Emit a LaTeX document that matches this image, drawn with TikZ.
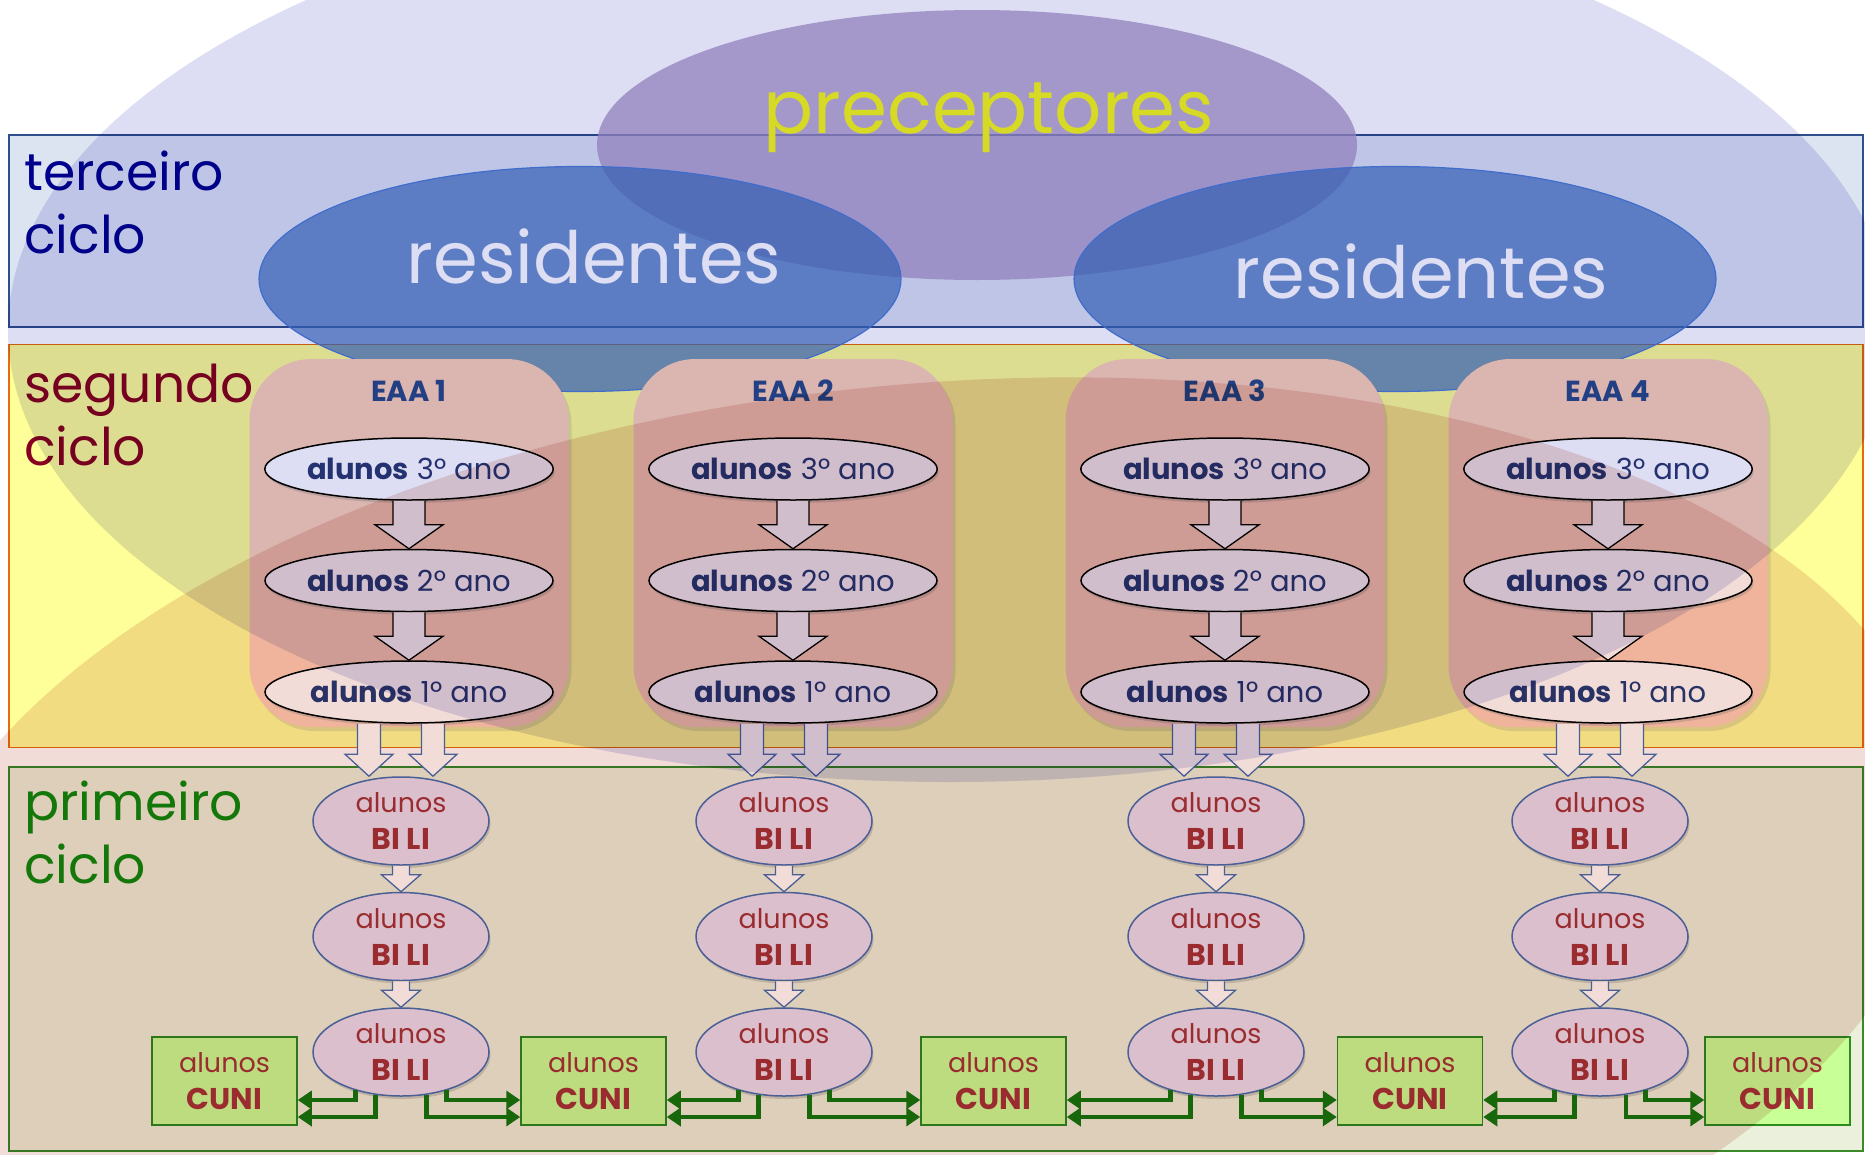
\documentclass[tikz,border=0pt]{standalone}
\usepackage{fontspec}
\setmainfont{Poppins}
\usetikzlibrary{positioning,shapes.geometric,calc,arrows.meta,shadows}

\definecolor{lavbg}{HTML}{DDDDF3}
\definecolor{pinkbg}{HTML}{F2DCD8}
\definecolor{terfill}{HTML}{DCE4F2}
\definecolor{terline}{HTML}{2F4E8C}
\definecolor{terlabel}{HTML}{00008F}
\definecolor{segfill}{HTML}{FFFF99}
\definecolor{segline}{HTML}{E46C0A}
\definecolor{seglabel}{HTML}{880022}
\definecolor{prifill}{HTML}{EAF0DC}
\definecolor{priline}{HTML}{3A8A2A}
\definecolor{prilabel}{HTML}{158A0C}
\definecolor{precfill}{HTML}{A896C8}
\definecolor{precyellow}{HTML}{F8FC26}
\definecolor{resfill}{HTML}{3C6EBE}
\definecolor{resline}{HTML}{4A7ED6}
\definecolor{eaafill}{HTML}{FDD1B9}
\definecolor{eaablue}{HTML}{284A8A}
\definecolor{anoblue}{HTML}{2B3A78}
\definecolor{bilifill}{HTML}{E8DEF2}
\definecolor{biliblue}{HTML}{4F6FB0}
\definecolor{bilired}{HTML}{A33439}
\definecolor{cunifill}{HTML}{C8FF96}
\definecolor{cuniline}{HTML}{2E8B1E}
\definecolor{linkgreen}{HTML}{1A780E}

\newcommand{\boldline}[1]{{\fontsize{30}{37}\selectfont\bfseries #1}}

\begin{document}
\begin{tikzpicture}[x=1pt, y=-1pt,
cyclebox/.style={rectangle, minimum width=1854pt, line width=1.5pt, inner sep=0pt},
cyclelabel/.style={anchor=base west, inner sep=0pt, align=left, font=\fontsize{52}{63}\selectfont},
bigtext/.style={anchor=base, inner sep=0pt, font=\fontsize{74}{80}\selectfont},
restext/.style={anchor=base, inner sep=0pt, text=white, font=\fontsize{72}{80}\selectfont},
precnode/.style={ellipse, fill=precfill, fill opacity=0.75, minimum width=760pt, minimum height=270pt},
resnode/.style={ellipse, draw=resline, line width=1.2pt, fill=resfill, fill opacity=0.7, minimum width=642pt, minimum height=225pt},
eaabox/.style={rectangle, rounded corners=62pt, fill=eaafill, minimum width=319pt, minimum height=368pt, drop shadow={opacity=0.2, shadow xshift=3pt, shadow yshift=-4pt}},
eaatitle/.style={anchor=base, inner sep=0pt, text=eaablue, font=\fontsize{29}{32}\selectfont\bfseries},
anonode/.style={ellipse, draw=black, line width=1.5pt, fill=white, minimum width=288pt, minimum height=62pt, inner sep=0pt, text=anoblue, font=\fontsize{29}{32}\selectfont, drop shadow={opacity=0.3, shadow xshift=1.5pt, shadow yshift=-3pt}},
bilinode/.style={ellipse, draw=biliblue, line width=1.5pt, fill=bilifill, minimum width=176pt, minimum height=88pt, inner sep=0pt, align=center, text=bilired, font=\fontsize{27}{37}\selectfont, drop shadow={opacity=0.3, shadow xshift=1.5pt, shadow yshift=-3pt}},
cuninode/.style={rectangle, draw=cuniline, line width=1.5pt, fill=cunifill, minimum width=145pt, minimum height=88pt, inner sep=0pt, align=center, text=bilired, font=\fontsize{27}{37}\selectfont},
blockarrow/.style n args={4}{to path={let \p1=(\tikztostart), \p2=(\tikztotarget) in
  (\x2+#4-#1,\y1) -- (\x2+#4-#1,\y2+#3) -- (\x2+#4-#2,\y2+#3) -- (\x2+#4,\y2) -- (\x2+#4+#2,\y2+#3) -- (\x2+#4+#1,\y2+#3) -- (\x2+#4+#1,\y1)}},
bigdown/.style={draw=black, line width=1.3pt, fill=white, blockarrow={16pt}{34pt}{24pt}{0pt}},
twindown/.style={draw=biliblue, line width=1.3pt, fill=white, blockarrow={11.5pt}{24pt}{22pt}{#1}},
smalldown/.style={draw=biliblue, line width=1.3pt, fill=white, blockarrow={8.5pt}{19.5pt}{17pt}{0pt}},
cunilink/.style={draw=linkgreen, line width=4.5pt, -{Triangle[length=14pt,width=18pt]}},
]
\useasboundingbox (0,0) rectangle (1865,1154);
\clip (0,0) rectangle (1865,1154);

%Cycles and big ellipses
\node[cyclebox, draw=terline, fill=terfill, minimum height=192pt] (ter) at (936,231) {};
\node[cyclelabel, text=terlabel] (terlab) at (24,253) {terceiro\\ciclo};
\node[precnode] (prec) at (977,145) {};
\node[bigtext, text=precyellow] (prectext) at (989,133) {preceptores};
\node[cyclebox, draw=segline, fill=segfill, minimum height=403pt] (seg) at (936,546) {};
\node[cyclelabel, text=seglabel] (seglab) at (24,465) {segundo\\ciclo};
\node[resnode] (res1) at (580,279) {};
\node[resnode] (res2) at (1395,279) {};
\node[restext] (res1text) at (594,283) {residentes};
\node[restext] (res2text) at (1421,298) {residentes};
\node[cyclebox, draw=priline, fill=prifill, minimum height=384pt] (pri) at (936,959) {};

%EAA boxes
\node[eaabox] (eaa1) at (409,543) {};
\node[eaabox] (eaa2) at (793,543) {};
\node[eaabox] (eaa3) at (1225,543) {};
\node[eaabox] (eaa4) at (1608,543) {};
\node[eaatitle] (t1) at ($(eaa1.north)+(0,43)$) {EAA 1};
\node[eaatitle] (t2) at ($(eaa2.north)+(0,43)$) {EAA 2};
\node[eaatitle] (t3) at ($(eaa3.north)+(0,43)$) {EAA 3};
\node[eaatitle] (t4) at ($(eaa4.north)+(0,43)$) {EAA 4};

%Year nodes
\node[anonode] (a13) at (409,469) {\textbf{alunos} 3º ano};
\node[anonode] (a12) [below=48pt of a13] {\textbf{alunos} 2º ano};
\node[anonode] (a11) [below=48pt of a12] {\textbf{alunos} 1º ano};
\node[anonode] (a23) at (793,469) {\textbf{alunos} 3º ano};
\node[anonode] (a22) [below=48pt of a23] {\textbf{alunos} 2º ano};
\node[anonode] (a21) [below=48pt of a22] {\textbf{alunos} 1º ano};
\node[anonode] (a33) at (1225,469) {\textbf{alunos} 3º ano};
\node[anonode] (a32) [below=48pt of a33] {\textbf{alunos} 2º ano};
\node[anonode] (a31) [below=48pt of a32] {\textbf{alunos} 1º ano};
\node[anonode] (a43) at (1608,469) {\textbf{alunos} 3º ano};
\node[anonode] (a42) [below=48pt of a43] {\textbf{alunos} 2º ano};
\node[anonode] (a41) [below=48pt of a42] {\textbf{alunos} 1º ano};

%BI LI nodes
\node[bilinode] (b11) at (401,821) {alunos\\\boldline{BI LI}};
\node[bilinode] (b12) [below=26pt of b11] {alunos\\\boldline{BI LI}};
\node[bilinode] (b13) [below=26pt of b12] {alunos\\\boldline{BI LI}};
\node[bilinode] (b21) at (784,821) {alunos\\\boldline{BI LI}};
\node[bilinode] (b22) [below=26pt of b21] {alunos\\\boldline{BI LI}};
\node[bilinode] (b23) [below=26pt of b22] {alunos\\\boldline{BI LI}};
\node[bilinode] (b31) at (1216,821) {alunos\\\boldline{BI LI}};
\node[bilinode] (b32) [below=26pt of b31] {alunos\\\boldline{BI LI}};
\node[bilinode] (b33) [below=26pt of b32] {alunos\\\boldline{BI LI}};
\node[bilinode] (b41) at (1600,821) {alunos\\\boldline{BI LI}};
\node[bilinode] (b42) [below=26pt of b41] {alunos\\\boldline{BI LI}};
\node[bilinode] (b43) [below=26pt of b42] {alunos\\\boldline{BI LI}};

%CUNI nodes
\node[cuninode] (cuni1) at (224.5,1081) {alunos\\\boldline{CUNI}};
\node[cuninode] (cuni2) at (593.5,1081) {alunos\\\boldline{CUNI}};
\node[cuninode] (cuni3) at (993.5,1081) {alunos\\\boldline{CUNI}};
\node[cuninode] (cuni4) at (1410,1081) {alunos\\\boldline{CUNI}};
\node[cuninode] (cuni5) at (1777.5,1081) {alunos\\\boldline{CUNI}};

%Lines
\draw[bigdown] (a13.south) to (a12.north);
\draw[bigdown] (a12.south) to (a11.north);
\draw[bigdown] (a23.south) to (a22.north);
\draw[bigdown] (a22.south) to (a21.north);
\draw[bigdown] (a33.south) to (a32.north);
\draw[bigdown] (a32.south) to (a31.north);
\draw[bigdown] (a43.south) to (a42.north);
\draw[bigdown] (a42.south) to (a41.north);

\draw[twindown=-32pt] (a11.south) to (b11.north);
\draw[twindown=32pt] (a11.south) to (b11.north);
\draw[twindown=-32pt] (a21.south) to (b21.north);
\draw[twindown=32pt] (a21.south) to (b21.north);
\draw[twindown=-32pt] (a31.south) to (b31.north);
\draw[twindown=32pt] (a31.south) to (b31.north);
\draw[twindown=-32pt] (a41.south) to (b41.north);
\draw[twindown=32pt] (a41.south) to (b41.north);

\draw[smalldown] (b11.south) to (b12.north);
\draw[smalldown] (b12.south) to (b13.north);
\draw[smalldown] (b21.south) to (b22.north);
\draw[smalldown] (b22.south) to (b23.north);
\draw[smalldown] (b31.south) to (b32.north);
\draw[smalldown] (b32.south) to (b33.north);
\draw[smalldown] (b41.south) to (b42.north);
\draw[smalldown] (b42.south) to (b43.north);

\draw[cunilink] (b13.220) |- ($(cuni1.east)+(0,19)$);
\draw[cunilink] (b13.239) |- ($(cuni1.east)+(0,36)$);
\draw[cunilink] (b13.301) |- ($(cuni2.west)+(0,36)$);
\draw[cunilink] (b13.320) |- ($(cuni2.west)+(0,19)$);
\draw[cunilink] (b23.220) |- ($(cuni2.east)+(0,19)$);
\draw[cunilink] (b23.239) |- ($(cuni2.east)+(0,36)$);
\draw[cunilink] (b23.301) |- ($(cuni3.west)+(0,36)$);
\draw[cunilink] (b23.320) |- ($(cuni3.west)+(0,19)$);
\draw[cunilink] (b33.220) |- ($(cuni3.east)+(0,19)$);
\draw[cunilink] (b33.239) |- ($(cuni3.east)+(0,36)$);
\draw[cunilink] (b33.301) |- ($(cuni4.west)+(0,36)$);
\draw[cunilink] (b33.320) |- ($(cuni4.west)+(0,19)$);
\draw[cunilink] (b43.220) |- ($(cuni4.east)+(0,19)$);
\draw[cunilink] (b43.239) |- ($(cuni4.east)+(0,36)$);
\draw[cunilink] (b43.301) |- ($(cuni5.west)+(0,36)$);
\draw[cunilink] (b43.320) |- ($(cuni5.west)+(0,19)$);

\node[cyclelabel, text=prilabel] (prilab) at (24,883) {primeiro\\ciclo};

%Tinted overlays
\fill[lavbg, blend mode=multiply] (950,330) ellipse [x radius=942pt, y radius=452pt];
\fill[pinkbg, blend mode=multiply, shift={(920,893)}, yslant=0.074] (0,0) ellipse [x radius=1020pt, y radius=510pt];
\end{tikzpicture}
\end{document}
